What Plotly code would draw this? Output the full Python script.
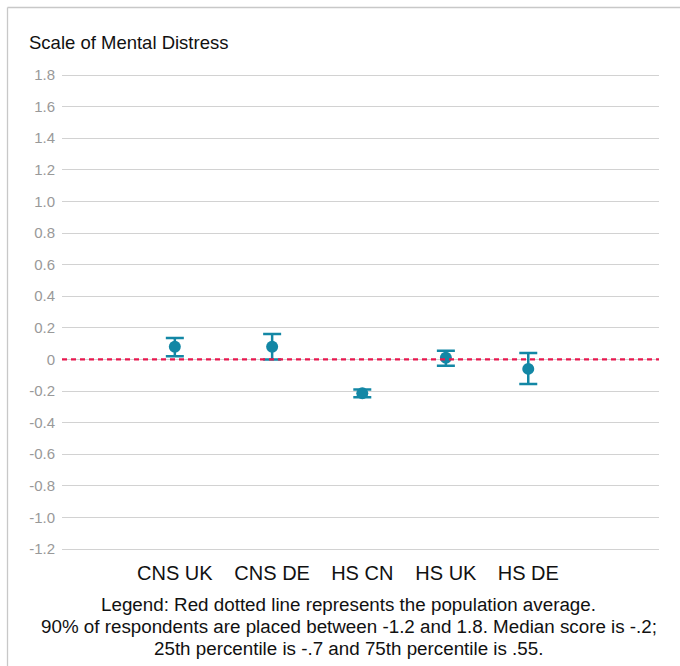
import plotly.graph_objects as go

# Groups and their mental-distress scores with interval bounds
groups = ["CNS UK", "CNS DE", "HS CN", "HS UK", "HS DE"]
score = [0.08, 0.08, -0.215, 0.01, -0.06]
upper = [0.135, 0.16, -0.19, 0.055, 0.04]
lower = [0.02, 0.0, -0.24, -0.04, -0.155]
population_avg = 0.0

y_ticks = [1.8, 1.6, 1.4, 1.2, 1.0, 0.8, 0.6, 0.4, 0.2, 0.0,
           -0.2, -0.4, -0.6, -0.8, -1.0, -1.2]
y_tick_text = ["1.8", "1.6", "1.4", "1.2", "1.0", "0.8", "0.6", "0.4", "0.2", "0",
               "-0.2", "-0.4", "-0.6", "-0.8", "-1.0", "-1.2"]

legend_lines = [
    "Legend: Red dotted line represents the population average.",
    "90% of respondents are placed between -1.2 and 1.8. Median score is -.2;",
    "25th percentile is -.7 and 75th percentile is .55.",
]

# horizontal slot of each group on a 0..1 axis
slot_x = [0.189, 0.352, 0.503, 0.643, 0.781]

TEAL = "#1387a5"
RED = "#e8184f"
GRID = "#d2d2d2"
FONT = "Liberation Sans, Arial, Helvetica, sans-serif"

# a small pad so the end gridlines stay inside the plot area
PAD = 0.01266

err_plus = [u - s for u, s in zip(upper, score)]
err_minus = [s - l for s, l in zip(score, lower)]

fig = go.Figure()
fig.add_trace(go.Scatter(
    x=slot_x, y=score, mode="markers",
    marker=dict(color=TEAL, size=12),
    error_y=dict(type="data", symmetric=False, array=err_plus,
                 arrayminus=err_minus, color=TEAL, thickness=2.5, width=9),
    hovertext=groups, showlegend=False,
))

# population average reference line
fig.add_shape(type="line", xref="paper", x0=0, x1=1, yref="y",
              y0=population_avg, y1=population_avg,
              line=dict(color=RED, width=2.2, dash="5px,4px"), layer="above")

# frame edges (top and left), positions in pixels converted to paper units
L, T, W, H = 62, 73, 597, 478


def px(xp):
    return (xp - L) / W


def py(yp):
    return (T + H - yp) / H


fig.add_shape(type="line", xref="paper", yref="paper", x0=px(7.5), x1=px(700),
              y0=py(7.5), y1=py(7.5), line=dict(color="#c8c8c8", width=1.3))
fig.add_shape(type="line", xref="paper", yref="paper", x0=px(7.5), x1=px(7.5),
              y0=py(7.5), y1=py(680), line=dict(color="#c8c8c8", width=1.3))

fig.add_annotation(text="Scale of Mental Distress", xref="paper", yref="paper",
                   x=px(27), y=py(42), xanchor="left", yanchor="middle",
                   showarrow=False, font=dict(family=FONT, size=18.5, color="#111"))

# centred note below the axis, one line per annotation
for i, line in enumerate(legend_lines):
    fig.add_annotation(text=line, xref="paper", yref="paper",
                       x=px(348.5), y=py(604 + 22 * i),
                       xanchor="center", yanchor="middle", showarrow=False,
                       font=dict(family=FONT, size=18.8, color="#111"))

fig.update_layout(
    width=680, height=666,
    margin=dict(l=L, r=680 - L - W, t=T, b=666 - T - H),
    paper_bgcolor="white", plot_bgcolor="white",
    font=dict(family=FONT),
    xaxis=dict(range=[0, 1], tickvals=slot_x, ticktext=groups,
               showgrid=False, zeroline=False, showline=False,
               ticks="", ticklabelstandoff=8,
               tickfont=dict(family=FONT, size=20, color="#111"),
               fixedrange=True),
    yaxis=dict(range=[-1.2 - PAD, 1.8 + PAD], tickvals=y_ticks, ticktext=y_tick_text,
               showgrid=True, gridcolor=GRID, gridwidth=1.2,
               zeroline=False, showline=False, ticks="",
               ticklabelstandoff=6,
               tickfont=dict(family=FONT, size=15, color="#999999"),
               fixedrange=True),
)

fig.write_html("out.html")
